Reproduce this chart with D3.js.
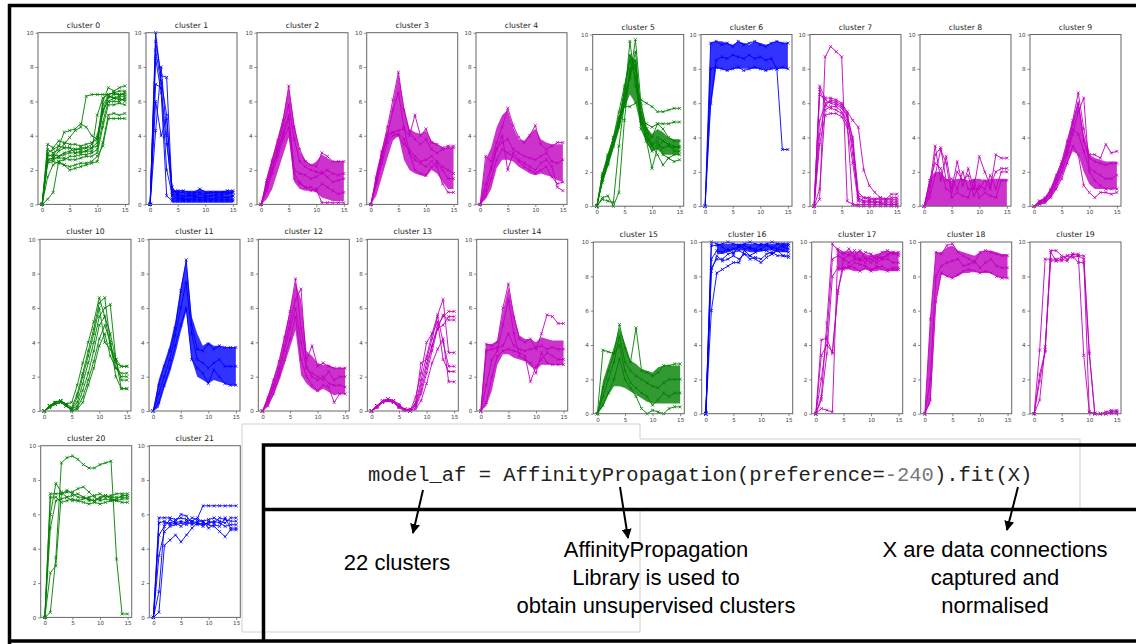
<!DOCTYPE html>
<html>
<head>
<meta charset="utf-8">
<script src="https://cdn.jsdelivr.net/npm/d3@7"></script>
<style>
  body { margin: 0; background: #fff; }
  svg { display: block; }
  .title { font-family: "DejaVu Sans", sans-serif; font-size: 7.7px; fill: #222; text-anchor: middle; }
  .tick text { font-family: "DejaVu Sans", sans-serif; font-size: 5.6px; fill: #444; }
  .tick line { stroke: #555; stroke-width: 0.7; }
  .frame { fill: none; stroke: #666; stroke-width: 1; }
  .code { font-family: "Liberation Mono", "DejaVu Sans Mono", monospace; font-size: 20.5px; fill: #222; }
  .note { font-family: "Liberation Sans", Arial, sans-serif; font-size: 22px; fill: #000; text-anchor: middle; }
</style>
</head>
<body>
<svg></svg>
<script>
// x positions 0..15 on every panel
const steps = d3.range(16);
const xTicks = [0, 5, 10, 15];
const yTicks = [0, 2, 4, 6, 8, 10];

// ---- series per cluster ----
const c0 = [
  [0,3.2,3.0,3.2,3.5,3.9,4.3,4.5,6.3,6.4,6.4,6.4,6.4,6.5,6.6,6.6],
  [0,2.5,2.6,2.8,3.0,3.1,3.2,3.3,3.3,3.5,4.0,5.5,6.0,6.2,6.3,6.3],
  [0,2.8,2.9,2.8,2.9,3.0,3.0,3.1,3.1,3.3,3.6,5.3,6.2,6.4,6.4,6.4],
  [0,3.5,3.3,3.7,3.6,3.5,3.5,3.4,3.5,3.6,3.8,6.0,6.8,6.6,6.8,6.9],
  [0,2.4,2.5,2.4,2.3,2.2,2.3,2.4,2.4,2.5,2.8,3.4,5.0,5.0,5.0,5.0],
  [0,0.3,0.7,2.5,2.3,2.0,2.1,2.2,2.3,2.4,2.5,3.6,5.2,5.3,5.2,5.3],
  [0,2.6,2.7,2.7,2.7,2.6,2.6,2.7,2.8,2.8,3.0,4.5,5.8,5.8,5.9,5.8],
  [0,3.0,3.2,3.4,3.3,3.3,3.2,3.2,3.3,3.3,3.4,5.8,6.3,6.2,6.1,6.1],
  [0,2.9,2.8,3.4,4.2,4.3,4.4,4.7,4.5,4.0,3.8,5.5,6.3,6.2,6.2,6.0],
  [0,1.6,2.3,2.5,2.6,2.8,2.8,2.9,2.9,3.0,3.2,4.8,6.0,6.0,6.0,6.2],
  [0,2.6,2.7,3.1,3.3,3.3,3.0,3.0,3.1,3.1,5.2,6.2,6.4,6.5,6.4,6.5]
];
const c1 = [
  [0,10,7.2,5.2,0.8,0.7,0.7,0.6,0.6,0.9,0.7,0.7,0.7,0.7,0.8,0.8],
  [0,9.5,7.5,7.4,0.5,0.6,0.5,0.5,0.5,0.6,0.5,0.5,0.6,0.6,0.6,0.7],
  [0,4.3,8.0,4.0,0.3,0.4,0.3,0.3,0.4,0.4,0.4,0.3,0.4,0.4,0.4,0.5],
  [0,8.5,6.5,0.5,0.2,0.2,0.2,0.2,0.2,0.2,0.2,0.2,0.2,0.2,0.2,0.2],
  [0,7.0,6.8,3.5,1.0,0.5,0.4,0.5,0.5,0.4,0.4,0.5,0.5,0.5,0.4,0.5],
  [0,9.0,7.0,2.0,0.6,0.3,0.3,0.3,0.3,0.3,0.3,0.3,0.3,0.3,0.3,0.3],
  [0,6.0,4.0,5.0,0.7,0.8,0.8,0.7,0.7,0.7,0.6,0.7,0.7,0.7,0.7,0.7]
];
const c1Lo = [null,null,null,null,0.1,0.1,0.1,0.1,0.1,0.1,0.1,0.1,0.1,0.1,0.1,0.1];
const c1Hi = [null,null,null,null,0.9,0.8,0.8,0.8,0.8,0.9,0.8,0.8,0.8,0.8,0.8,0.8];
const c2 = [
  [0,1.4,2.6,3.7,4.9,6.9,4.5,3.2,2.5,2.3,2.2,3.0,2.8,2.5,2.5,2.5],
  [0,1.0,2.0,3.0,4.0,5.0,2.0,1.8,1.7,1.5,1.6,1.9,1.6,1.3,1.4,1.5],
  [0,0.8,1.8,2.8,3.8,4.5,1.5,1.2,1.0,1.0,0.8,1.2,1.0,0.8,0.6,0.7],
  [0,1.2,2.4,3.4,4.6,5.8,3.8,2.5,2.2,2.0,1.9,1.8,2.0,1.8,1.7,1.8],
  [0,1.1,2.1,3.2,4.2,5.2,1.8,1.3,1.0,0.8,0.9,0.1,0.1,0.1,0.1,0.1]
];
const c2Lo = [0,0.3,0.9,1.9,2.9,3.9,1.3,0.9,0.8,0.8,0.7,0.4,0.3,0.2,0.2,0.2];
const c2Hi = [0,1.6,2.7,3.9,5.1,6.8,4.7,3.1,2.6,2.3,2.5,2.9,2.7,2.5,2.5,2.5];
const c3 = [
  [0,1.6,3.1,4.5,6.1,7.7,5.5,4.2,3.8,3.5,3.8,3.2,3.0,3.2,3.3,3.3],
  [0,1.5,3.0,3.8,4.2,4.3,4.4,4.0,5.2,4.0,4.4,3.6,3.5,3.3,3.4,3.4],
  [0,1.2,2.4,3.6,4.0,4.1,3.8,3.0,2.6,2.4,2.2,2.5,2.2,1.2,0.7,0.7],
  [0,1.3,2.7,4.0,5.5,6.5,4.5,3.0,2.0,1.8,1.7,2.2,2.4,2.0,1.5,1.5],
  [0,1.4,2.8,4.1,4.2,4.0,3.5,3.2,2.8,2.5,2.6,2.8,2.5,2.2,2.0,1.8]
];
const c3Lo = [0,0.5,1.6,2.7,3.7,4.0,2.6,2.0,1.8,1.7,1.6,2.0,1.8,1.3,0.9,0.9];
const c3Hi = [0,1.9,3.2,4.4,5.9,7.6,5.7,4.4,4.2,4.1,4.3,3.7,3.5,3.3,3.3,3.3];
const c4 = [
  [0,2.8,2.5,3.6,4.5,5.6,4.6,3.9,3.6,4.0,4.6,3.5,3.2,3.4,3.6,3.6],
  [0,0.8,2.0,3.2,4.0,2.0,3.0,2.6,2.4,2.2,2.0,2.4,2.6,2.2,1.0,0.8],
  [0,1.2,2.2,3.3,3.6,3.8,3.2,3.0,2.8,2.7,2.6,2.8,3.0,2.5,2.4,2.6],
  [0,0.5,1.5,2.6,3.2,3.0,2.8,2.5,2.2,2.0,1.8,2.0,2.2,1.6,1.2,1.3]
];
const c4Lo = [0,0.3,0.9,2.1,2.6,2.6,2.5,2.2,2.0,1.8,1.7,1.8,1.7,1.6,1.4,1.3];
const c4Hi = [0,2.6,3.3,4.5,5.2,5.5,4.5,3.8,3.7,4.1,4.4,3.8,3.6,3.5,3.5,3.5];
const c5 = [
  [0,1.8,2.8,3.8,5.0,6.5,7.5,9.7,6.0,4.5,4.0,4.8,4.5,4.0,3.8,3.8],
  [0,1.5,2.5,3.6,4.8,6.2,9.6,7.0,5.5,4.2,3.5,3.8,3.0,2.8,2.6,2.7],
  [0,1.9,3.0,4.0,5.2,5.8,5.8,6.0,6.2,6.0,5.8,5.5,5.5,5.6,5.7,5.7],
  [0,0.5,0.6,0.0,0.8,5.0,8.0,8.5,5.0,4.0,3.5,3.0,2.4,2.8,3.0,3.0],
  [0,1.6,2.6,3.8,4.9,6.8,8.8,8.0,4.8,4.8,4.6,4.8,4.8,4.8,4.9,4.9],
  [0,0.4,0.3,0.2,3.5,6.0,7.5,9.0,5.2,3.8,2.2,3.4,3.8,3.6,3.2,3.2],
  [0,1.7,2.9,4.0,5.5,7.0,8.5,7.5,4.5,3.8,3.2,3.6,3.4,3.5,3.4,3.5],
  [0,1.4,2.4,3.5,4.6,6.0,7.8,8.2,5.8,4.5,3.6,4.0,3.8,3.6,3.5,3.4]
];
const c5Lo = [0,1.3,2.3,3.3,4.4,5.7,6.5,6.0,4.6,3.7,3.2,3.3,3.0,3.0,3.0,3.0];
const c5Hi = [0,1.8,2.9,3.9,5.2,6.8,8.8,8.5,5.6,4.6,4.2,4.5,4.3,4.0,3.9,3.9];
const c6 = [
  [0,9.5,9.6,9.4,9.5,9.3,9.6,9.4,9.5,9.6,9.4,9.3,9.5,9.6,9.5,9.5],
  [0,8.0,8.1,8.0,7.9,8.0,8.1,7.9,8.0,8.1,8.0,7.9,8.0,8.0,8.1,8.0],
  [0,6.0,8.5,8.7,8.6,8.8,8.7,8.6,8.8,8.6,8.7,8.5,8.6,8.0,3.3,3.3]
];
const c6Lo = [0,5.6,8.0,8.0,7.9,8.0,8.0,8.0,8.0,8.0,8.0,7.9,8.0,8.0,8.0,8.0];
const c6Hi = [0.1,9.5,9.6,9.6,9.5,9.4,9.6,9.5,9.4,9.6,9.5,9.4,9.5,9.6,9.5,9.5];
const c7 = [
  [0,0.4,8.7,9.3,9.0,8.7,0.3,0.1,0.1,0.1,0.1,0.1,0.1,0.1,0.1,0.1],
  [0,7.0,6.3,6.3,6.2,6.0,5.5,5.0,4.6,2.1,1.2,0.8,0.5,0.4,0.7,0.7],
  [0,6.8,6.0,6.1,6.0,5.8,5.2,4.0,0.8,0.5,0.4,0.4,0.4,0.4,0.4,0.4],
  [0,1.0,5.6,5.8,5.8,5.5,5.0,3.5,0.5,0.3,0.3,0.2,0.3,0.3,0.3,0.3],
  [0,3.6,5.3,5.4,5.4,5.2,4.6,2.5,0.3,0.2,0.2,0.2,0.2,0.2,0.2,0.2],
  [0,6.5,6.2,6.0,5.9,5.7,5.3,3.0,0.6,0.5,0.5,0.4,0.5,0.4,0.5,0.5],
  [0,5.0,5.9,5.7,5.6,5.4,4.8,0.1,0.0,0.0,0.0,0.0,0.0,0.0,0.0,0.0],
  [0,4.2,5.8,6.2,6.1,5.9,5.4,3.8,0.4,0.3,0.3,0.3,0.2,0.1,0.1,0.1]
];
const c8 = [
  [0,1.2,3.5,1.5,2.9,1.0,2.6,1.2,2.2,1.0,1.0,1.5,1.0,3.0,2.8,2.8],
  [0,0.8,3.0,3.4,1.5,1.6,1.0,2.0,1.0,1.0,2.9,2.0,1.2,2.0,2.2,2.2],
  [0,1.5,2.5,2.2,1.0,0.8,2.0,1.5,1.8,0.6,1.2,1.0,1.8,1.0,2.0,2.0],
  [0,0.5,1.8,3.3,2.5,0.5,0.8,0.6,0.5,1.5,0.5,0.8,0.6,0.5,1.5,1.5]
];
const c8Lo = [0,0,0,0,0,0,0,0,0,0,0,0,0,0,0,0];
const c8Hi = [0.1,1.6,2.0,2.0,1.6,1.5,1.6,1.6,1.5,1.6,1.6,1.5,1.6,1.6,1.6,1.6];
const c9 = [
  [0,0.3,0.5,1.0,1.8,2.6,3.8,5.0,6.6,4.5,3.0,3.0,2.8,3.6,3.1,3.2],
  [0,0.2,0.3,0.6,1.3,2.0,3.0,4.2,5.5,6.3,2.0,1.5,1.2,1.0,1.0,1.0],
  [0,0.1,0.2,0.5,1.0,1.6,2.5,3.5,3.0,1.2,0.8,0.5,0.8,0.8,0.7,0.8],
  [0,0.3,0.4,0.8,1.5,2.3,3.5,4.8,6.0,3.8,2.8,2.6,2.5,2.4,2.5,2.5],
  [0,0.2,0.4,0.9,1.6,2.4,3.2,4.5,4.2,3.2,2.2,2.0,1.8,1.6,1.6,1.8]
];
const c9Lo = [0,0.1,0.2,0.5,1.0,1.7,2.5,3.2,3.0,2.0,1.3,1.0,1.0,1.0,1.0,1.0];
const c9Hi = [0,0.3,0.5,1.0,1.8,2.6,3.8,5.0,6.2,4.2,3.0,2.8,2.7,2.6,2.6,2.6];
const c10 = [
  [0,0.3,0.5,0.6,0.4,0.5,1.5,2.8,4.0,5.2,6.6,5.5,3.8,3.0,2.6,2.6],
  [0,0.3,0.5,0.6,0.4,0.2,1.0,2.2,3.5,4.8,6.3,6.6,4.0,2.5,2.2,2.2],
  [0,0.3,0.4,0.5,0.3,0.1,0.5,1.6,2.8,4.0,5.5,6.0,6.2,3.0,1.8,1.8],
  [0,0.2,0.4,0.5,0.3,0.1,0.3,1.2,2.2,3.5,5.0,5.5,4.5,3.0,1.3,1.3],
  [0,0.3,0.5,0.6,0.4,0.0,0.2,0.8,1.8,2.9,4.2,5.0,4.0,2.0,1.3,1.3],
  [0,0.2,0.5,0.6,0.3,0.1,0.8,2.0,3.2,4.5,6.0,4.0,3.6,2.8,2.6,2.6],
  [0,0.3,0.4,0.5,0.3,0.0,0.1,0.5,1.5,2.5,3.8,4.5,3.2,2.5,2.0,2.0]
];
const c11 = [
  [0,1.5,2.6,3.5,4.8,7.0,8.8,5.0,3.6,3.5,3.9,3.6,3.8,3.7,3.7,3.7],
  [0,0.5,1.5,2.5,3.8,5.0,6.0,3.0,2.5,2.2,1.6,2.4,2.0,1.6,1.5,1.5],
  [0,1.0,2.0,3.0,4.4,6.0,7.5,4.5,3.0,2.8,2.5,2.8,3.0,2.6,2.6,2.6]
];
const c11Lo = [0,0.2,1.3,2.2,3.3,4.6,5.8,3.0,2.0,1.8,1.6,1.8,1.7,1.6,1.5,1.5];
const c11Hi = [0,1.8,2.8,3.8,5.2,7.2,8.8,5.5,4.5,3.8,4.0,3.8,3.8,3.7,3.7,3.7];
const c12 = [
  [0,0.8,1.8,2.9,4.3,5.8,7.7,4.8,3.0,3.8,2.6,2.8,2.6,2.5,2.5,2.5],
  [0,0.6,1.5,2.5,3.8,5.2,6.5,7.1,2.5,2.2,2.0,1.8,2.3,1.8,2.0,2.0],
  [0,0.3,1.0,2.0,3.0,4.2,5.5,3.0,2.0,1.5,1.2,1.5,1.4,0.5,1.0,1.0],
  [0,0.5,1.3,2.2,3.5,4.8,6.0,4.0,2.5,2.0,1.8,2.0,1.6,1.5,1.5,1.4]
];
const c12Lo = [0,0.3,0.9,1.7,2.7,3.7,4.7,2.1,1.6,1.3,1.1,1.3,1.1,0.9,1.0,1.0];
const c12Hi = [0,0.9,1.9,2.9,4.4,5.9,7.5,6.5,3.5,3.2,2.8,2.7,2.7,2.5,2.5,2.5];
const c13 = [
  [0,0.3,0.5,0.7,0.6,0.4,0.1,0.0,0.8,2.2,4.0,4.5,5.6,6.5,3.4,3.4],
  [0,0.3,0.6,0.7,0.6,0.3,0.1,0.0,0.5,2.8,3.0,4.2,5.5,4.0,2.6,2.6],
  [0,0.2,0.5,0.6,0.5,0.3,0.1,0.1,0.3,1.5,2.8,3.8,5.0,5.5,5.8,5.8],
  [0,0.3,0.5,0.6,0.5,0.2,0.0,0.0,0.2,1.0,2.2,3.5,4.8,5.0,5.5,5.5],
  [0,0.2,0.5,0.7,0.6,0.3,0.1,0.0,0.4,1.8,3.2,4.5,5.2,3.0,2.3,2.3],
  [0,0.3,0.5,0.6,0.5,0.2,0.1,0.0,0.1,0.6,1.6,2.8,3.6,4.2,1.7,1.7],
  [0,0.3,0.6,0.7,0.5,0.3,0.1,0.1,0.3,1.2,2.5,3.8,4.8,5.6,5.3,5.3]
];
const c14 = [
  [0,3.9,3.8,4.0,6.0,7.4,5.5,4.2,4.0,4.2,3.6,4.5,5.6,5.5,5.1,5.1],
  [0,0.5,2.0,3.2,3.5,3.6,3.5,3.4,3.2,1.7,2.6,3.0,3.4,3.2,3.0,3.0],
  [0,3.5,3.6,3.7,3.8,4.5,3.8,3.6,3.5,3.6,3.7,3.8,3.6,3.7,3.6,3.6],
  [0,1.5,3.0,3.5,5.0,6.5,4.5,3.2,3.0,2.8,2.2,3.4,2.8,2.7,2.7,2.7]
];
const c14Lo = [0,0.3,1.2,2.7,3.3,3.3,3.1,3.0,2.9,2.6,2.4,2.7,2.7,2.7,2.7,2.7];
const c14Hi = [0,3.9,3.9,4.1,5.8,7.2,5.6,4.4,4.2,4.2,4.0,4.3,4.2,4.1,4.1,4.1];
const c15 = [
  [0,3.7,3.6,3.5,5.2,3.8,3.0,5.0,2.5,2.4,2.2,2.4,2.8,2.8,2.9,2.9],
  [0,1.0,2.0,3.0,4.5,3.0,2.5,2.2,2.0,1.8,1.6,1.5,1.8,2.0,2.0,2.0],
  [0,0.5,1.2,2.0,3.2,2.0,1.5,1.0,0.3,0.0,0.2,0.1,0.0,0.3,0.4,0.4],
  [0,1.5,2.5,3.5,4.0,2.5,1.8,1.5,1.2,1.0,0.5,0.8,1.2,1.0,1.2,1.2]
];
const c15Lo = [0,0.4,1.1,1.6,1.6,1.5,1.3,1.1,0.9,0.7,0.6,0.6,0.6,0.6,0.6,0.6];
const c15Hi = [0,1.9,2.9,3.9,5.0,4.1,3.1,2.9,2.6,2.5,2.4,2.7,2.8,2.8,2.8,2.8];
const c16 = [
  [0,6.0,8.2,8.4,8.6,8.8,8.8,9.5,9.2,9.0,8.8,9.1,9.3,9.5,9.2,9.1],
  [0,9.8,9.8,9.9,10,9.9,9.8,9.9,10,9.9,9.8,9.9,10,9.9,9.9,9.9],
  [0,8.5,9.0,9.0,9.3,9.4,9.5,9.3,9.2,9.4,9.5,9.5,9.3,9.6,9.5,9.4],
  [0,9.0,9.5,9.4,9.6,9.3,9.8,9.6,9.7,9.5,9.6,9.8,9.7,9.6,9.8,9.8],
  [0,10,9.9,9.7,9.5,9.6,9.7,9.8,9.6,9.6,9.9,9.8,9.6,9.9,9.7,9.6],
  [0,8.3,9.2,8.9,9.0,9.2,9.0,9.3,9.0,9.1,9.0,9.3,9.4,9.2,9.2,9.2]
];
const c16Lo = [null,null,9.3,9.3,9.4,9.5,9.5,9.5,9.4,9.4,9.5,9.5,9.5,9.4,9.4,9.4];
const c16Hi = [null,null,9.9,9.9,9.9,9.9,9.9,9.9,9.9,9.9,9.9,9.9,9.9,9.9,9.9,9.9];
const c17 = [
  [0,0.3,0.2,0.1,9.6,9.4,9.2,9.5,9.0,8.8,9.2,9.0,9.4,9.5,9.3,9.3],
  [0,4.3,4.4,3.5,7.2,8.5,8.5,8.8,8.7,8.6,8.4,8.5,8.6,8.4,8.5,8.5],
  [0,1.0,5.3,9.9,9.5,9.3,9.6,9.2,9.5,9.0,8.8,9.2,9.0,9.3,9.4,9.2],
  [0,3.4,4.0,3.6,7.0,9.0,8.8,9.0,8.9,9.1,9.0,8.8,9.0,9.0,8.8,8.8],
  [0,0.8,3.5,8.0,8.5,8.4,8.6,8.5,8.3,8.5,8.3,8.6,8.4,8.3,8.4,8.4],
  [0,2.0,4.5,9.0,9.2,9.0,9.3,9.1,9.0,9.4,9.3,9.0,9.1,9.2,9.4,9.4]
];
const c17Lo = [null,null,null,null,8.3,8.4,8.4,8.3,8.3,8.4,8.3,8.3,8.4,8.3,8.3,8.3];
const c17Hi = [null,null,null,null,9.5,9.4,9.5,9.4,9.5,9.3,9.2,9.3,9.4,9.5,9.4,9.4];
const c18 = [
  [0,5.5,9.4,9.3,9.8,9.9,9.4,9.2,9.0,8.8,9.4,9.5,9.4,9.3,9.2,9.2],
  [0,0.8,6.5,8.2,8.0,7.9,8.1,8.3,8.4,8.3,8.2,8.3,8.2,8.0,7.9,7.9],
  [0,2.0,8.0,8.6,8.8,8.9,9.0,8.6,8.7,8.9,8.5,8.8,9.0,8.6,8.5,8.5]
];
const c18Lo = [0,0.6,6.6,8.1,8.0,7.9,8.0,8.2,8.2,8.3,8.2,8.2,8.2,8.0,7.9,7.9];
const c18Hi = [0,5.4,9.4,9.4,9.7,9.8,9.5,9.4,9.3,9.2,9.4,9.5,9.5,9.4,9.3,9.3];
const c19 = [
  [0,3.7,9.0,9.0,9.0,9.1,9.2,9.3,9.2,9.0,0.1,0.0,0.0,0.0,0.1,0.1],
  [0,2.3,3.6,9.5,9.5,9.2,9.0,9.2,8.8,8.8,3.5,0.0,0.0,0.0,0.0,0.0],
  [0,0.8,3.9,8.9,8.9,9.0,8.9,9.3,9.3,3.4,0.1,0.0,0.0,0.1,0.2,0.2],
  [0,1.9,3.7,9.4,8.9,8.9,9.2,9.1,9.2,9.2,3.6,0.0,0.0,0.0,0.1,0.1]
];
const c20 = [
  [0,0.3,3.5,9.0,9.3,9.4,9.2,8.9,8.7,8.7,8.9,9.0,9.1,3.4,0.2,0.2],
  [0,2.6,3.0,7.2,7.3,7.3,7.5,7.6,7.3,7.0,6.8,6.9,6.8,6.9,7.1,7.1],
  [0,7.2,7.2,7.2,7.4,7.2,7.0,7.0,6.8,6.8,6.9,7.1,7.0,7.0,7.0,7.0],
  [0,6.0,7.8,7.3,7.0,6.8,6.8,6.7,6.6,6.7,6.6,6.7,6.8,6.8,6.7,6.7],
  [0,5.2,6.8,6.9,7.0,7.1,7.2,7.0,6.9,6.8,7.0,7.1,6.9,6.8,6.9,6.9],
  [0,7.0,7.0,6.7,6.8,6.9,6.8,6.9,7.0,7.1,7.2,7.0,7.1,7.2,7.2,7.2]
];
const c21 = [
  [0,5.8,5.8,5.8,5.7,5.8,5.7,5.6,5.8,6.5,6.5,6.5,6.5,6.5,6.5,6.5],
  [0,0.3,4.2,4.5,4.8,4.4,4.8,5.2,5.5,5.4,5.5,5.6,5.5,5.3,5.4,5.4],
  [0,1.5,5.5,5.5,5.6,6.0,5.9,5.5,5.4,5.5,5.4,5.3,5.0,4.7,5.1,5.1],
  [0,3.6,5.0,5.3,5.4,5.5,5.4,5.6,5.5,5.3,5.6,5.5,5.8,5.7,5.6,5.6],
  [0,5.5,5.6,5.4,5.5,5.3,5.6,5.4,5.6,5.6,5.2,5.4,5.3,5.8,5.2,5.2],
  [0,4.8,5.3,5.7,5.5,5.6,5.5,5.8,5.7,5.6,5.7,5.8,5.6,5.5,5.8,5.8]
];

const clusterLines = [c0,c1,c2,c3,c4,c5,c6,c7,c8,c9,c10,c11,c12,c13,c14,c15,c16,c17,c18,c19,c20,c21];
const clusterLo = {1:c1Lo,2:c2Lo,3:c3Lo,4:c4Lo,5:c5Lo,6:c6Lo,8:c8Lo,9:c9Lo,11:c11Lo,12:c12Lo,14:c14Lo,15:c15Lo,16:c16Lo,17:c17Lo,18:c18Lo};
const clusterHi = {1:c1Hi,2:c2Hi,3:c3Hi,4:c4Hi,5:c5Hi,6:c6Hi,8:c8Hi,9:c9Hi,11:c11Hi,12:c12Hi,14:c14Hi,15:c15Hi,16:c16Hi,17:c17Hi,18:c18Hi};

// ---- styles / layout ----
const colorKey = ["g","b","m","m","m","g","b","m","m","m","g","b","m","m","m","g","b","m","m","m","g","b"];
const palette = { g: "#008000", b: "#0000ff", m: "#bf00bf" };

const panelLeft = [38,146,257,366.7,476,592.7,701,810,920,1030,
                   40,149,258.3,367.3,476.7,593.3,701.7,811.7,920.7,1030,
                   40.7,149.3];
const panelTop = [32.7,32.7,32.7,32.7,32.7,34.5,34.5,34.5,34.5,34.5,
                  239.3,239.3,239.3,239.3,239.3,242,242,242,242,242,
                  445.7,445.7];
const panelW = 91, panelH = 171.7;

const svg = d3.select("svg").attr("width", 1136).attr("height", 644);

svg.append("rect").attr("width", 1136).attr("height", 644).attr("fill", "#fff");

const marker = d3.symbol().type(d3.symbolX).size(7);

clusterLines.forEach((lines, k) => {
  const left = panelLeft[k], top = panelTop[k];
  const color = palette[colorKey[k]];

  const x = d3.scaleLinear().domain([-0.75, 15.75]).range([left, left + panelW]);
  const y = d3.scaleLinear().domain([0, 10]).range([top + panelH, top]);

  const g = svg.append("g").attr("class", "panel");

  if (clusterLo[k]) {
    const band = steps.map(i => ({ i, lo: clusterLo[k][i], hi: clusterHi[k][i] }));
    const area = d3.area()
      .defined(d => d.lo != null)
      .x(d => x(d.i))
      .y0(d => y(d.lo))
      .y1(d => y(d.hi));
    g.append("path")
      .datum(band)
      .attr("d", area)
      .attr("fill", color)
      .attr("opacity", 0.8);
  }

  const line = d3.line()
    .x((d, i) => x(i))
    .y(d => y(d));

  lines.forEach(vals => {
    g.append("path")
      .datum(vals)
      .attr("d", line)
      .attr("fill", "none")
      .attr("stroke", color)
      .attr("stroke-width", 1)
      .attr("stroke-opacity", 0.9);

    g.selectAll(null)
      .data(vals)
      .enter()
      .append("path")
      .attr("d", marker)
      .attr("transform", (d, i) => `translate(${x(i)},${y(d)})`)
      .attr("fill", "none")
      .attr("stroke", color)
      .attr("stroke-width", 0.8);
  });

  g.append("g")
    .attr("transform", `translate(${left},0)`)
    .call(d3.axisLeft(y).tickValues(yTicks).tickSize(2.5).tickPadding(2).tickFormat(d3.format("d")))
    .call(a => a.select(".domain").remove());

  g.append("g")
    .attr("transform", `translate(0,${top + panelH})`)
    .call(d3.axisBottom(x).tickValues(xTicks).tickSize(2.5).tickPadding(1.5).tickFormat(d3.format("d")))
    .call(a => a.select(".domain").remove());

  g.append("rect")
    .attr("class", "frame")
    .attr("x", left).attr("y", top)
    .attr("width", panelW).attr("height", panelH);

  g.append("text")
    .attr("class", "title")
    .attr("x", left + panelW / 2)
    .attr("y", top - 5)
    .text("cluster " + k);
});

// ---- pasted screenshot edges ----
const grey = "#cfcfcf";
svg.append("path")
  .attr("d", "M242,632 L242,424 L640,424 L640,439 L1080,439 L1080,508 M640,510 L640,632 L242,632")
  .attr("fill", "none").attr("stroke", grey).attr("stroke-width", 1);

// ---- annotation box ----
const box = svg.append("g");
box.append("path")
  .attr("d", "M263.5,641 L263.5,445 L1140,445 M263.5,509.5 L1140,509.5")
  .attr("fill", "none").attr("stroke", "#000").attr("stroke-width", 3.5);

const code = box.append("text").attr("class", "code").attr("x", 368).attr("y", 481);
code.append("tspan").text("model_af = AffinityPropagation(preference=");
code.append("tspan").attr("fill", "#777").text("-240");
code.append("tspan").text(").fit(X)");

const notes = [
  { x: 397, lines: ["22 clusters"], y0: 570 },
  { x: 656, lines: ["AffinityPropagation", "Library is used to", "obtain unsupervised clusters"], y0: 557 },
  { x: 995, lines: ["X are data connections", "captured and", "normalised"], y0: 557 }
];
notes.forEach(n => {
  n.lines.forEach((t, i) => {
    box.append("text").attr("class", "note")
      .attr("x", n.x).attr("y", n.y0 + i * 27.8).text(t);
  });
});

svg.append("defs").append("marker")
  .attr("id", "head")
  .attr("viewBox", "0 0 10 10")
  .attr("refX", 9).attr("refY", 5)
  .attr("markerWidth", 5).attr("markerHeight", 5)
  .attr("orient", "auto")
  .append("path").attr("d", "M0,0 L10,5 L0,10 z").attr("fill", "#000");

const arrows = [
  [423, 490, 413, 533],
  [620, 487, 628, 538],
  [1018, 487, 1007, 530]
];
arrows.forEach(a => {
  svg.append("line")
    .attr("x1", a[0]).attr("y1", a[1]).attr("x2", a[2]).attr("y2", a[3])
    .attr("stroke", "#000").attr("stroke-width", 2)
    .attr("marker-end", "url(#head)");
});

// ---- outer frame ----
svg.append("path")
  .attr("d", "M9.5,650 L9.5,5.5 L1140,5.5 M9.5,641 L1140,641")
  .attr("fill", "none").attr("stroke", "#000").attr("stroke-width", 3.5);
</script>
</body>
</html>
